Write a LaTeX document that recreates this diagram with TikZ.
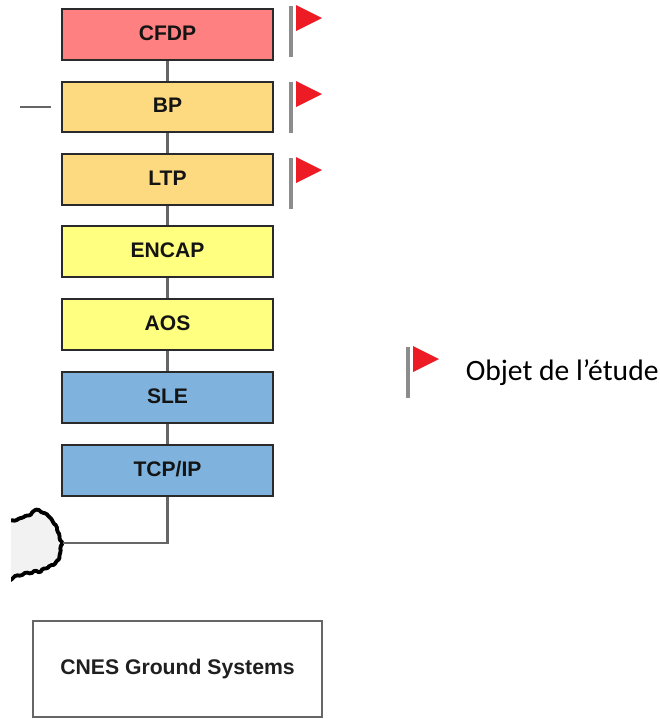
\documentclass[tikz,border=0pt]{standalone}
\usepackage{fontspec}
\setmainfont{Liberation Sans}
\newfontfamily\carl{Carlito}
\definecolor{redbox}{HTML}{FF8080}
\definecolor{orangebox}{HTML}{FDD97F}
\definecolor{yellowbox}{HTML}{FFFF80}
\definecolor{bluebox}{HTML}{7FB2DD}
\definecolor{edgegrey}{HTML}{666666}
\definecolor{poleg}{HTML}{8C8C8C}
\definecolor{flagred}{HTML}{ED1C24}
\definecolor{boxedge}{HTML}{2A2A2A}
\tikzset{
  x=0.75pt,y=-0.75pt,
  layerbox/.style={draw=boxedge,line width=1.6pt,minimum width=158pt,minimum height=38pt,inner sep=0pt,text height=11.3pt,text depth=3pt,font=\fontsize{15.8}{18}\selectfont\bfseries,text=black!92},
  link/.style={draw=edgegrey,line width=2.2pt},
  pole/.style={draw=poleg,line width=3pt},
  flagtri/.style={fill=flagred,draw=none},
}
\newcommand{\flagat}[2]{%
  \draw[pole] (#1,#2+1) -- (#1,#2+52);
  \fill[flagtri] (#1+5,#2) -- (#1+31,#2+13) -- (#1+5,#2+26) -- cycle;
}
\begin{document}
\begin{tikzpicture}
\useasboundingbox (0,0) rectangle (660,719);
\node[layerbox,fill=redbox]    (cfdp)  at (167.5,34.5)  {CFDP};
\node[layerbox,fill=orangebox] (bp)    at (167.5,107)   {BP};
\node[layerbox,fill=orangebox] (ltp)   at (167.5,179.5) {LTP};
\node[layerbox,fill=yellowbox] (encap) at (167.5,251.5) {ENCAP};
\node[layerbox,fill=yellowbox] (aos)   at (167.5,324.5) {AOS};
\node[layerbox,fill=bluebox]   (sle)   at (167.5,397.5) {SLE};
\node[layerbox,fill=bluebox]   (tcp)   at (167.5,470.5) {TCP/IP};
\draw[link] (cfdp) -- (bp);
\draw[link] (bp) -- (ltp);
\draw[link] (ltp) -- (encap);
\draw[link] (encap) -- (aos);
\draw[link] (aos) -- (sle);
\draw[link] (sle) -- (tcp);
% cloud
\begin{scope}
\clip (11,490) rectangle (80,600);
\draw[fill=black!5,draw=black,line width=2.9pt,line join=round,rounded corners=1.2pt]
  (0,525) -- (11,520) -- (16,521) -- (19,518) -- (23,518) -- (26,515) -- (30,516) -- (33,511) -- (38,509) -- (42,513) -- (46,513) -- (49,517)
  -- (52,519) -- (53,523) -- (57,526) -- (57,531) -- (60,535) -- (59,539) -- (63,543) -- (60,547) -- (61,552) -- (59,555) -- (60,559) -- (56,561)
  -- (55,565) -- (50,565) -- (47,569) -- (43,568) -- (40,573) -- (35,570) -- (31,574) -- (26,572) -- (21,576) -- (16,575) -- (11,580) -- (0,585) -- cycle;
\end{scope}
\coordinate (cloudport) at (63,543);
\draw[link,line width=1.9pt] (tcp.south) |- (cloudport);
% BP stub
\coordinate (stubL) at (20,107);
\coordinate (stubR) at (51,107);
\draw[draw=edgegrey,line width=1.5pt] (stubL) -- (stubR);
% flags
\flagat{291}{5}
\flagat{291}{81}
\flagat{291}{157}
\flagat{408}{346}
% legend
\node[anchor=base west,inner sep=0pt,font=\carl\fontsize{22.2}{26}\selectfont,text=black] (legend) at (465.5,380) {Objet de l’étude};
% CNES
\node[draw=edgegrey,line width=1.6pt,minimum width=216.5pt,minimum height=71.5pt,inner sep=0pt,font=\fontsize{15.9}{18}\selectfont\bfseries,text=black!88] (cnes) at (177.5,669) {CNES Ground Systems};
\end{tikzpicture}
\end{document}
